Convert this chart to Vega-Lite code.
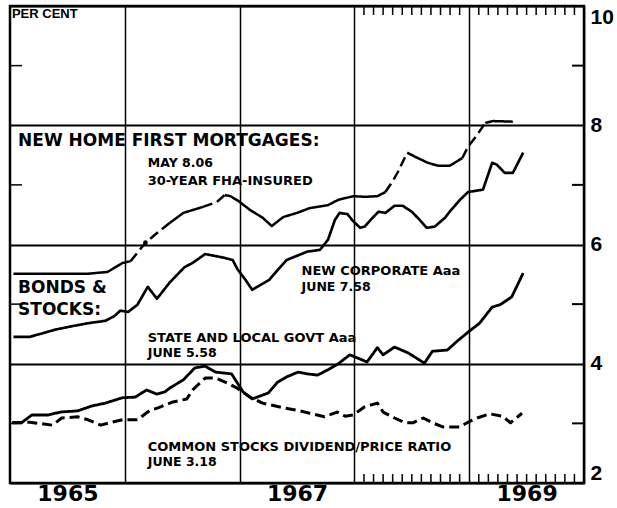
{
  "$schema": "https://vega.github.io/schema/vega-lite/v6.json",
  "width": 574,
  "height": 477,
  "autosize": {"type": "none"},
  "padding": {"left": 10, "top": 6, "right": 33, "bottom": 25},
  "background": "white",
  "config": {"view": {"stroke": "black", "strokeWidth": 2.5}, "font": "DejaVu Sans"},
  "datasets": {
    "series": [
      {"series": "FHA", "segment": "F1", "style": "solid", "yr": 1965.03, "val": 5.51},
      {"series": "FHA", "segment": "F1", "style": "solid", "yr": 1965.68, "val": 5.51},
      {"series": "FHA", "segment": "F1", "style": "solid", "yr": 1965.85, "val": 5.54},
      {"series": "FHA", "segment": "F1", "style": "solid", "yr": 1965.98, "val": 5.69},
      {"series": "FHA", "segment": "F1", "style": "solid", "yr": 1966.05, "val": 5.72},
      {"series": "FHA", "segment": "F2", "style": "dashed", "yr": 1966.05, "val": 5.72},
      {"series": "FHA", "segment": "F2", "style": "dashed", "yr": 1966.13, "val": 5.91},
      {"series": "FHA", "segment": "F2", "style": "dashed", "yr": 1966.18, "val": 6.03},
      {"series": "FHA", "segment": "F2", "style": "dashed", "yr": 1966.26, "val": 6.16},
      {"series": "FHA", "segment": "F2", "style": "dashed", "yr": 1966.39, "val": 6.36},
      {"series": "FHA", "segment": "F3", "style": "solid", "yr": 1966.39, "val": 6.36},
      {"series": "FHA", "segment": "F3", "style": "solid", "yr": 1966.51, "val": 6.53},
      {"series": "FHA", "segment": "F3", "style": "solid", "yr": 1966.68, "val": 6.63},
      {"series": "FHA", "segment": "F4", "style": "dashed", "yr": 1966.68, "val": 6.63},
      {"series": "FHA", "segment": "F4", "style": "dashed", "yr": 1966.8, "val": 6.71},
      {"series": "FHA", "segment": "F4", "style": "dashed", "yr": 1966.87, "val": 6.83},
      {"series": "FHA", "segment": "F5", "style": "solid", "yr": 1966.87, "val": 6.83},
      {"series": "FHA", "segment": "F5", "style": "solid", "yr": 1966.92, "val": 6.81},
      {"series": "FHA", "segment": "F5", "style": "solid", "yr": 1966.99, "val": 6.73},
      {"series": "FHA", "segment": "F5", "style": "solid", "yr": 1967.09, "val": 6.58},
      {"series": "FHA", "segment": "F5", "style": "solid", "yr": 1967.2, "val": 6.45},
      {"series": "FHA", "segment": "F5", "style": "solid", "yr": 1967.28, "val": 6.31},
      {"series": "FHA", "segment": "F5", "style": "solid", "yr": 1967.38, "val": 6.46},
      {"series": "FHA", "segment": "F5", "style": "solid", "yr": 1967.5, "val": 6.53},
      {"series": "FHA", "segment": "F5", "style": "solid", "yr": 1967.61, "val": 6.61},
      {"series": "FHA", "segment": "F5", "style": "solid", "yr": 1967.77, "val": 6.66},
      {"series": "FHA", "segment": "F5", "style": "solid", "yr": 1967.86, "val": 6.75},
      {"series": "FHA", "segment": "F5", "style": "solid", "yr": 1967.99, "val": 6.81},
      {"series": "FHA", "segment": "F5", "style": "solid", "yr": 1968.09, "val": 6.8},
      {"series": "FHA", "segment": "F5", "style": "solid", "yr": 1968.2, "val": 6.81},
      {"series": "FHA", "segment": "F5", "style": "solid", "yr": 1968.27, "val": 6.88},
      {"series": "FHA", "segment": "F6", "style": "dashed", "yr": 1968.27, "val": 6.88},
      {"series": "FHA", "segment": "F6", "style": "dashed", "yr": 1968.33, "val": 7.05},
      {"series": "FHA", "segment": "F6", "style": "dashed", "yr": 1968.38, "val": 7.22},
      {"series": "FHA", "segment": "F6", "style": "dashed", "yr": 1968.46, "val": 7.54},
      {"series": "FHA", "segment": "F7", "style": "solid", "yr": 1968.46, "val": 7.54},
      {"series": "FHA", "segment": "F7", "style": "solid", "yr": 1968.53, "val": 7.47},
      {"series": "FHA", "segment": "F7", "style": "solid", "yr": 1968.64, "val": 7.37},
      {"series": "FHA", "segment": "F7", "style": "solid", "yr": 1968.73, "val": 7.32},
      {"series": "FHA", "segment": "F7", "style": "solid", "yr": 1968.83, "val": 7.32},
      {"series": "FHA", "segment": "F7", "style": "solid", "yr": 1968.94, "val": 7.45},
      {"series": "FHA", "segment": "F8", "style": "dashed", "yr": 1968.94, "val": 7.45},
      {"series": "FHA", "segment": "F8", "style": "dashed", "yr": 1968.99, "val": 7.64},
      {"series": "FHA", "segment": "F8", "style": "dashed", "yr": 1969.07, "val": 7.84},
      {"series": "FHA", "segment": "F8", "style": "dashed", "yr": 1969.14, "val": 8.04},
      {"series": "FHA", "segment": "F9", "style": "solid", "yr": 1969.14, "val": 8.04},
      {"series": "FHA", "segment": "F9", "style": "solid", "yr": 1969.21, "val": 8.07},
      {"series": "FHA", "segment": "F9", "style": "solid", "yr": 1969.38, "val": 8.06},

      {"series": "Corporate", "segment": "C", "style": "solid", "yr": 1965.03, "val": 4.45},
      {"series": "Corporate", "segment": "C", "style": "solid", "yr": 1965.17, "val": 4.45},
      {"series": "Corporate", "segment": "C", "style": "solid", "yr": 1965.3, "val": 4.52},
      {"series": "Corporate", "segment": "C", "style": "solid", "yr": 1965.39, "val": 4.57},
      {"series": "Corporate", "segment": "C", "style": "solid", "yr": 1965.54, "val": 4.63},
      {"series": "Corporate", "segment": "C", "style": "solid", "yr": 1965.68, "val": 4.68},
      {"series": "Corporate", "segment": "C", "style": "solid", "yr": 1965.83, "val": 4.72},
      {"series": "Corporate", "segment": "C", "style": "solid", "yr": 1965.91, "val": 4.8},
      {"series": "Corporate", "segment": "C", "style": "solid", "yr": 1965.96, "val": 4.89},
      {"series": "Corporate", "segment": "C", "style": "solid", "yr": 1966.03, "val": 4.87},
      {"series": "Corporate", "segment": "C", "style": "solid", "yr": 1966.11, "val": 4.99},
      {"series": "Corporate", "segment": "C", "style": "solid", "yr": 1966.2, "val": 5.29},
      {"series": "Corporate", "segment": "C", "style": "solid", "yr": 1966.28, "val": 5.09},
      {"series": "Corporate", "segment": "C", "style": "solid", "yr": 1966.39, "val": 5.36},
      {"series": "Corporate", "segment": "C", "style": "solid", "yr": 1966.52, "val": 5.62},
      {"series": "Corporate", "segment": "C", "style": "solid", "yr": 1966.59, "val": 5.69},
      {"series": "Corporate", "segment": "C", "style": "solid", "yr": 1966.7, "val": 5.84},
      {"series": "Corporate", "segment": "C", "style": "solid", "yr": 1966.86, "val": 5.78},
      {"series": "Corporate", "segment": "C", "style": "solid", "yr": 1966.94, "val": 5.74},
      {"series": "Corporate", "segment": "C", "style": "solid", "yr": 1966.98, "val": 5.59},
      {"series": "Corporate", "segment": "C", "style": "solid", "yr": 1967.05, "val": 5.41},
      {"series": "Corporate", "segment": "C", "style": "solid", "yr": 1967.11, "val": 5.24},
      {"series": "Corporate", "segment": "C", "style": "solid", "yr": 1967.18, "val": 5.32},
      {"series": "Corporate", "segment": "C", "style": "solid", "yr": 1967.26, "val": 5.41},
      {"series": "Corporate", "segment": "C", "style": "solid", "yr": 1967.33, "val": 5.57},
      {"series": "Corporate", "segment": "C", "style": "solid", "yr": 1967.41, "val": 5.74},
      {"series": "Corporate", "segment": "C", "style": "solid", "yr": 1967.5, "val": 5.81},
      {"series": "Corporate", "segment": "C", "style": "solid", "yr": 1967.59, "val": 5.88},
      {"series": "Corporate", "segment": "C", "style": "solid", "yr": 1967.7, "val": 5.91},
      {"series": "Corporate", "segment": "C", "style": "solid", "yr": 1967.77, "val": 6.08},
      {"series": "Corporate", "segment": "C", "style": "solid", "yr": 1967.83, "val": 6.41},
      {"series": "Corporate", "segment": "C", "style": "solid", "yr": 1967.87, "val": 6.53},
      {"series": "Corporate", "segment": "C", "style": "solid", "yr": 1967.94, "val": 6.51},
      {"series": "Corporate", "segment": "C", "style": "solid", "yr": 1967.98, "val": 6.41},
      {"series": "Corporate", "segment": "C", "style": "solid", "yr": 1968.05, "val": 6.28},
      {"series": "Corporate", "segment": "C", "style": "solid", "yr": 1968.09, "val": 6.3},
      {"series": "Corporate", "segment": "C", "style": "solid", "yr": 1968.15, "val": 6.43},
      {"series": "Corporate", "segment": "C", "style": "solid", "yr": 1968.21, "val": 6.55},
      {"series": "Corporate", "segment": "C", "style": "solid", "yr": 1968.27, "val": 6.53},
      {"series": "Corporate", "segment": "C", "style": "solid", "yr": 1968.35, "val": 6.65},
      {"series": "Corporate", "segment": "C", "style": "solid", "yr": 1968.42, "val": 6.65},
      {"series": "Corporate", "segment": "C", "style": "solid", "yr": 1968.5, "val": 6.55},
      {"series": "Corporate", "segment": "C", "style": "solid", "yr": 1968.57, "val": 6.41},
      {"series": "Corporate", "segment": "C", "style": "solid", "yr": 1968.63, "val": 6.28},
      {"series": "Corporate", "segment": "C", "style": "solid", "yr": 1968.7, "val": 6.3},
      {"series": "Corporate", "segment": "C", "style": "solid", "yr": 1968.79, "val": 6.45},
      {"series": "Corporate", "segment": "C", "style": "solid", "yr": 1968.83, "val": 6.55},
      {"series": "Corporate", "segment": "C", "style": "solid", "yr": 1968.92, "val": 6.75},
      {"series": "Corporate", "segment": "C", "style": "solid", "yr": 1968.99, "val": 6.88},
      {"series": "Corporate", "segment": "C", "style": "solid", "yr": 1969.12, "val": 6.92},
      {"series": "Corporate", "segment": "C", "style": "solid", "yr": 1969.2, "val": 7.37},
      {"series": "Corporate", "segment": "C", "style": "solid", "yr": 1969.24, "val": 7.34},
      {"series": "Corporate", "segment": "C", "style": "solid", "yr": 1969.31, "val": 7.2},
      {"series": "Corporate", "segment": "C", "style": "solid", "yr": 1969.38, "val": 7.2},
      {"series": "Corporate", "segment": "C", "style": "solid", "yr": 1969.47, "val": 7.54},

      {"series": "State", "segment": "S", "style": "solid", "yr": 1965.02, "val": 3.01},
      {"series": "State", "segment": "S", "style": "solid", "yr": 1965.1, "val": 3.01},
      {"series": "State", "segment": "S", "style": "solid", "yr": 1965.19, "val": 3.14},
      {"series": "State", "segment": "S", "style": "solid", "yr": 1965.33, "val": 3.14},
      {"series": "State", "segment": "S", "style": "solid", "yr": 1965.44, "val": 3.19},
      {"series": "State", "segment": "S", "style": "solid", "yr": 1965.59, "val": 3.21},
      {"series": "State", "segment": "S", "style": "solid", "yr": 1965.71, "val": 3.29},
      {"series": "State", "segment": "S", "style": "solid", "yr": 1965.83, "val": 3.34},
      {"series": "State", "segment": "S", "style": "solid", "yr": 1965.98, "val": 3.43},
      {"series": "State", "segment": "S", "style": "solid", "yr": 1966.09, "val": 3.44},
      {"series": "State", "segment": "S", "style": "solid", "yr": 1966.19, "val": 3.56},
      {"series": "State", "segment": "S", "style": "solid", "yr": 1966.28, "val": 3.49},
      {"series": "State", "segment": "S", "style": "solid", "yr": 1966.35, "val": 3.53},
      {"series": "State", "segment": "S", "style": "solid", "yr": 1966.39, "val": 3.59},
      {"series": "State", "segment": "S", "style": "solid", "yr": 1966.51, "val": 3.73},
      {"series": "State", "segment": "S", "style": "solid", "yr": 1966.61, "val": 3.93},
      {"series": "State", "segment": "S", "style": "solid", "yr": 1966.7, "val": 3.96},
      {"series": "State", "segment": "S", "style": "solid", "yr": 1966.79, "val": 3.86},
      {"series": "State", "segment": "S", "style": "solid", "yr": 1966.93, "val": 3.83},
      {"series": "State", "segment": "S", "style": "solid", "yr": 1966.98, "val": 3.68},
      {"series": "State", "segment": "S", "style": "solid", "yr": 1967.03, "val": 3.53},
      {"series": "State", "segment": "S", "style": "solid", "yr": 1967.11, "val": 3.41},
      {"series": "State", "segment": "S", "style": "solid", "yr": 1967.18, "val": 3.46},
      {"series": "State", "segment": "S", "style": "solid", "yr": 1967.25, "val": 3.51},
      {"series": "State", "segment": "S", "style": "solid", "yr": 1967.33, "val": 3.69},
      {"series": "State", "segment": "S", "style": "solid", "yr": 1967.41, "val": 3.78},
      {"series": "State", "segment": "S", "style": "solid", "yr": 1967.51, "val": 3.86},
      {"series": "State", "segment": "S", "style": "solid", "yr": 1967.59, "val": 3.83},
      {"series": "State", "segment": "S", "style": "solid", "yr": 1967.68, "val": 3.81},
      {"series": "State", "segment": "S", "style": "solid", "yr": 1967.77, "val": 3.9},
      {"series": "State", "segment": "S", "style": "solid", "yr": 1967.86, "val": 4.0},
      {"series": "State", "segment": "S", "style": "solid", "yr": 1967.96, "val": 4.15},
      {"series": "State", "segment": "S", "style": "solid", "yr": 1968.01, "val": 4.11},
      {"series": "State", "segment": "S", "style": "solid", "yr": 1968.11, "val": 4.03},
      {"series": "State", "segment": "S", "style": "solid", "yr": 1968.2, "val": 4.27},
      {"series": "State", "segment": "S", "style": "solid", "yr": 1968.25, "val": 4.15},
      {"series": "State", "segment": "S", "style": "solid", "yr": 1968.35, "val": 4.28},
      {"series": "State", "segment": "S", "style": "solid", "yr": 1968.47, "val": 4.18},
      {"series": "State", "segment": "S", "style": "solid", "yr": 1968.61, "val": 4.01},
      {"series": "State", "segment": "S", "style": "solid", "yr": 1968.68, "val": 4.21},
      {"series": "State", "segment": "S", "style": "solid", "yr": 1968.81, "val": 4.23},
      {"series": "State", "segment": "S", "style": "solid", "yr": 1968.89, "val": 4.37},
      {"series": "State", "segment": "S", "style": "solid", "yr": 1968.99, "val": 4.53},
      {"series": "State", "segment": "S", "style": "solid", "yr": 1969.09, "val": 4.68},
      {"series": "State", "segment": "S", "style": "solid", "yr": 1969.2, "val": 4.95},
      {"series": "State", "segment": "S", "style": "solid", "yr": 1969.27, "val": 4.99},
      {"series": "State", "segment": "S", "style": "solid", "yr": 1969.37, "val": 5.12},
      {"series": "State", "segment": "S", "style": "solid", "yr": 1969.42, "val": 5.32},
      {"series": "State", "segment": "S", "style": "solid", "yr": 1969.47, "val": 5.52},

      {"series": "Dividend", "segment": "D", "style": "dashed", "yr": 1965.02, "val": 3.01},
      {"series": "Dividend", "segment": "D", "style": "dashed", "yr": 1965.17, "val": 3.02},
      {"series": "Dividend", "segment": "D", "style": "dashed", "yr": 1965.37, "val": 2.97},
      {"series": "Dividend", "segment": "D", "style": "dashed", "yr": 1965.45, "val": 3.09},
      {"series": "Dividend", "segment": "D", "style": "dashed", "yr": 1965.59, "val": 3.11},
      {"series": "Dividend", "segment": "D", "style": "dashed", "yr": 1965.68, "val": 3.06},
      {"series": "Dividend", "segment": "D", "style": "dashed", "yr": 1965.79, "val": 2.97},
      {"series": "Dividend", "segment": "D", "style": "dashed", "yr": 1965.89, "val": 3.02},
      {"series": "Dividend", "segment": "D", "style": "dashed", "yr": 1965.98, "val": 3.06},
      {"series": "Dividend", "segment": "D", "style": "dashed", "yr": 1966.11, "val": 3.06},
      {"series": "Dividend", "segment": "D", "style": "dashed", "yr": 1966.22, "val": 3.22},
      {"series": "Dividend", "segment": "D", "style": "dashed", "yr": 1966.29, "val": 3.26},
      {"series": "Dividend", "segment": "D", "style": "dashed", "yr": 1966.42, "val": 3.36},
      {"series": "Dividend", "segment": "D", "style": "dashed", "yr": 1966.54, "val": 3.41},
      {"series": "Dividend", "segment": "D", "style": "dashed", "yr": 1966.59, "val": 3.56},
      {"series": "Dividend", "segment": "D", "style": "dashed", "yr": 1966.7, "val": 3.76},
      {"series": "Dividend", "segment": "D", "style": "dashed", "yr": 1966.79, "val": 3.76},
      {"series": "Dividend", "segment": "D", "style": "dashed", "yr": 1966.89, "val": 3.68},
      {"series": "Dividend", "segment": "D", "style": "dashed", "yr": 1966.98, "val": 3.59},
      {"series": "Dividend", "segment": "D", "style": "dashed", "yr": 1967.09, "val": 3.44},
      {"series": "Dividend", "segment": "D", "style": "dashed", "yr": 1967.2, "val": 3.34},
      {"series": "Dividend", "segment": "D", "style": "dashed", "yr": 1967.38, "val": 3.26},
      {"series": "Dividend", "segment": "D", "style": "dashed", "yr": 1967.5, "val": 3.22},
      {"series": "Dividend", "segment": "D", "style": "dashed", "yr": 1967.61, "val": 3.17},
      {"series": "Dividend", "segment": "D", "style": "dashed", "yr": 1967.74, "val": 3.11},
      {"series": "Dividend", "segment": "D", "style": "dashed", "yr": 1967.85, "val": 3.19},
      {"series": "Dividend", "segment": "D", "style": "dashed", "yr": 1967.92, "val": 3.12},
      {"series": "Dividend", "segment": "D", "style": "dashed", "yr": 1967.99, "val": 3.14},
      {"series": "Dividend", "segment": "D", "style": "dashed", "yr": 1968.09, "val": 3.28},
      {"series": "Dividend", "segment": "D", "style": "dashed", "yr": 1968.2, "val": 3.34},
      {"series": "Dividend", "segment": "D", "style": "dashed", "yr": 1968.25, "val": 3.19},
      {"series": "Dividend", "segment": "D", "style": "dashed", "yr": 1968.35, "val": 3.09},
      {"series": "Dividend", "segment": "D", "style": "dashed", "yr": 1968.44, "val": 3.01},
      {"series": "Dividend", "segment": "D", "style": "dashed", "yr": 1968.51, "val": 3.01},
      {"series": "Dividend", "segment": "D", "style": "dashed", "yr": 1968.6, "val": 3.09},
      {"series": "Dividend", "segment": "D", "style": "dashed", "yr": 1968.68, "val": 3.01},
      {"series": "Dividend", "segment": "D", "style": "dashed", "yr": 1968.77, "val": 2.94},
      {"series": "Dividend", "segment": "D", "style": "dashed", "yr": 1968.92, "val": 2.94},
      {"series": "Dividend", "segment": "D", "style": "dashed", "yr": 1968.99, "val": 3.02},
      {"series": "Dividend", "segment": "D", "style": "dashed", "yr": 1969.07, "val": 3.09},
      {"series": "Dividend", "segment": "D", "style": "dashed", "yr": 1969.18, "val": 3.16},
      {"series": "Dividend", "segment": "D", "style": "dashed", "yr": 1969.29, "val": 3.12},
      {"series": "Dividend", "segment": "D", "style": "dashed", "yr": 1969.36, "val": 3.01},
      {"series": "Dividend", "segment": "D", "style": "dashed", "yr": 1969.46, "val": 3.17}
    ],
    "dot": [{"yr": 1966.18, "val": 6.03}],
    "months": [
      {"yr": 1968.0833}, {"yr": 1968.1667}, {"yr": 1968.25}, {"yr": 1968.3333},
      {"yr": 1968.4167}, {"yr": 1968.5}, {"yr": 1968.5833}, {"yr": 1968.6667},
      {"yr": 1968.75}, {"yr": 1968.8333}, {"yr": 1968.9167},
      {"yr": 1969.0833}, {"yr": 1969.1667}, {"yr": 1969.25}, {"yr": 1969.3333},
      {"yr": 1969.4167}, {"yr": 1969.5}, {"yr": 1969.5833}, {"yr": 1969.6667},
      {"yr": 1969.75}, {"yr": 1969.8333}, {"yr": 1969.9167}
    ],
    "minor": [{"val": 3}, {"val": 5}, {"val": 7}, {"val": 9}],
    "bigText": [
      {"yr": 1965.07, "val": 7.74, "label": "NEW HOME FIRST MORTGAGES:"},
      {"yr": 1965.07, "val": 5.27, "label": "BONDS &"},
      {"yr": 1965.07, "val": 4.9, "label": "STOCKS:"}
    ],
    "captionText": [
      {"yr": 1966.2, "val": 7.07, "label": "30-YEAR FHA-INSURED"},
      {"yr": 1967.54, "val": 5.56, "label": "NEW CORPORATE Aaa"},
      {"yr": 1966.2, "val": 4.43, "label": "STATE AND LOCAL GOVT Aaa"},
      {"yr": 1966.2, "val": 2.6, "label": "COMMON STOCKS DIVIDEND/PRICE RATIO"}
    ],
    "dateText": [
      {"yr": 1966.2, "val": 7.37, "label": "MAY 8.06"},
      {"yr": 1967.54, "val": 5.29, "label": "JUNE 7.58"},
      {"yr": 1966.2, "val": 4.18, "label": "JUNE 5.58"},
      {"yr": 1966.2, "val": 2.35, "label": "JUNE 3.18"}
    ],
    "unit": [{"yr": 1965.017, "val": 9.87, "label": "PER CENT"}]
  },
  "layer": [
    {
      "data": {"name": "series"},
      "mark": {"type": "line", "color": "black", "strokeJoin": "round"},
      "encoding": {
        "x": {
          "field": "yr", "type": "quantitative",
          "scale": {"domain": [1965, 1970], "nice": false, "zero": false},
          "axis": {
            "orient": "bottom", "values": [1966, 1967, 1968, 1969, 1970],
            "grid": true, "gridColor": "black", "gridWidth": 1.5, "gridOpacity": 1,
            "ticks": false, "domain": false, "title": null,
            "labelExpr": "datum.value % 2 == 0 ? '' + (datum.value - 1) : ''",
            "labelOffset": -57.4, "labelFlush": false, "labelOverlap": false, "labelBound": false,
            "labelFont": "DejaVu Sans", "labelFontWeight": "bold", "labelFontSize": 22,
            "labelColor": "black", "labelPadding": 0, "labelBaseline": "top"
          }
        },
        "y": {
          "field": "val", "type": "quantitative",
          "scale": {"domain": [2, 10], "nice": false, "zero": false},
          "axis": {
            "orient": "right", "values": [2, 4, 6, 8, 10], "format": "d",
            "grid": true, "gridColor": "black", "gridWidth": 2, "gridOpacity": 1,
            "ticks": false, "domain": false, "title": null,
            "labelFlush": true, "labelOverlap": false,
            "labelFont": "Liberation Sans", "labelFontWeight": "bold", "labelFontSize": 21,
            "labelColor": "black", "labelPadding": 6, "labelAlign": "left"
          }
        },
        "detail": {"field": "segment"},
        "strokeDash": {
          "field": "style", "type": "nominal",
          "scale": {"domain": ["solid", "dashed"], "range": [[1, 0], [10, 5]]},
          "legend": null
        },
        "strokeWidth": {
          "field": "series", "type": "nominal",
          "scale": {"domain": ["FHA", "Corporate", "State", "Dividend"], "range": [2.5, 3, 3.5, 2]},
          "legend": null
        }
      }
    },
    {
      "data": {"name": "dot"},
      "mark": {"type": "circle", "color": "black", "size": 22, "opacity": 1},
      "encoding": {
        "x": {"field": "yr", "type": "quantitative", "title": null},
        "y": {"field": "val", "type": "quantitative", "title": null}
      }
    },
    {
      "data": {"name": "months"},
      "mark": {"type": "tick", "orient": "vertical", "color": "black", "size": 18, "thickness": 1.5, "clip": true, "opacity": 1},
      "encoding": {
        "x": {"field": "yr", "type": "quantitative", "title": null},
        "y": {"datum": 10, "type": "quantitative", "title": null}
      }
    },
    {
      "data": {"name": "months"},
      "mark": {"type": "tick", "orient": "vertical", "color": "black", "size": 18, "thickness": 1.5, "clip": true, "opacity": 1},
      "encoding": {
        "x": {"field": "yr", "type": "quantitative", "title": null},
        "y": {"datum": 2, "type": "quantitative", "title": null}
      }
    },
    {
      "data": {"name": "minor"},
      "mark": {"type": "tick", "orient": "horizontal", "color": "black", "size": 24, "thickness": 2, "clip": true, "opacity": 1},
      "encoding": {
        "x": {"datum": 1970, "type": "quantitative", "title": null},
        "y": {"field": "val", "type": "quantitative", "title": null}
      }
    },
    {
      "data": {"name": "minor"},
      "mark": {"type": "tick", "orient": "horizontal", "color": "black", "size": 24, "thickness": 1.5, "clip": true, "opacity": 1},
      "encoding": {
        "x": {"datum": 1965, "type": "quantitative", "title": null},
        "y": {"field": "val", "type": "quantitative", "title": null}
      }
    },
    {
      "data": {"name": "bigText"},
      "mark": {"type": "text", "align": "left", "baseline": "middle", "font": "DejaVu Sans", "fontWeight": "bold", "fontSize": 17, "color": "black"},
      "encoding": {
        "x": {"field": "yr", "type": "quantitative", "title": null},
        "y": {"field": "val", "type": "quantitative", "title": null},
        "text": {"field": "label"}
      }
    },
    {
      "data": {"name": "captionText"},
      "mark": {"type": "text", "align": "left", "baseline": "middle", "font": "DejaVu Sans", "fontWeight": "bold", "fontSize": 13, "color": "black"},
      "encoding": {
        "x": {"field": "yr", "type": "quantitative", "title": null},
        "y": {"field": "val", "type": "quantitative", "title": null},
        "text": {"field": "label"}
      }
    },
    {
      "data": {"name": "dateText"},
      "mark": {"type": "text", "align": "left", "baseline": "middle", "font": "DejaVu Sans", "fontWeight": "bold", "fontSize": 12.5, "color": "black"},
      "encoding": {
        "x": {"field": "yr", "type": "quantitative", "title": null},
        "y": {"field": "val", "type": "quantitative", "title": null},
        "text": {"field": "label"}
      }
    },
    {
      "data": {"name": "unit"},
      "mark": {"type": "text", "align": "left", "baseline": "middle", "font": "Liberation Sans", "fontWeight": "bold", "fontSize": 13, "color": "black"},
      "encoding": {
        "x": {"field": "yr", "type": "quantitative", "title": null},
        "y": {"field": "val", "type": "quantitative", "title": null},
        "text": {"field": "label"}
      }
    }
  ]
}
